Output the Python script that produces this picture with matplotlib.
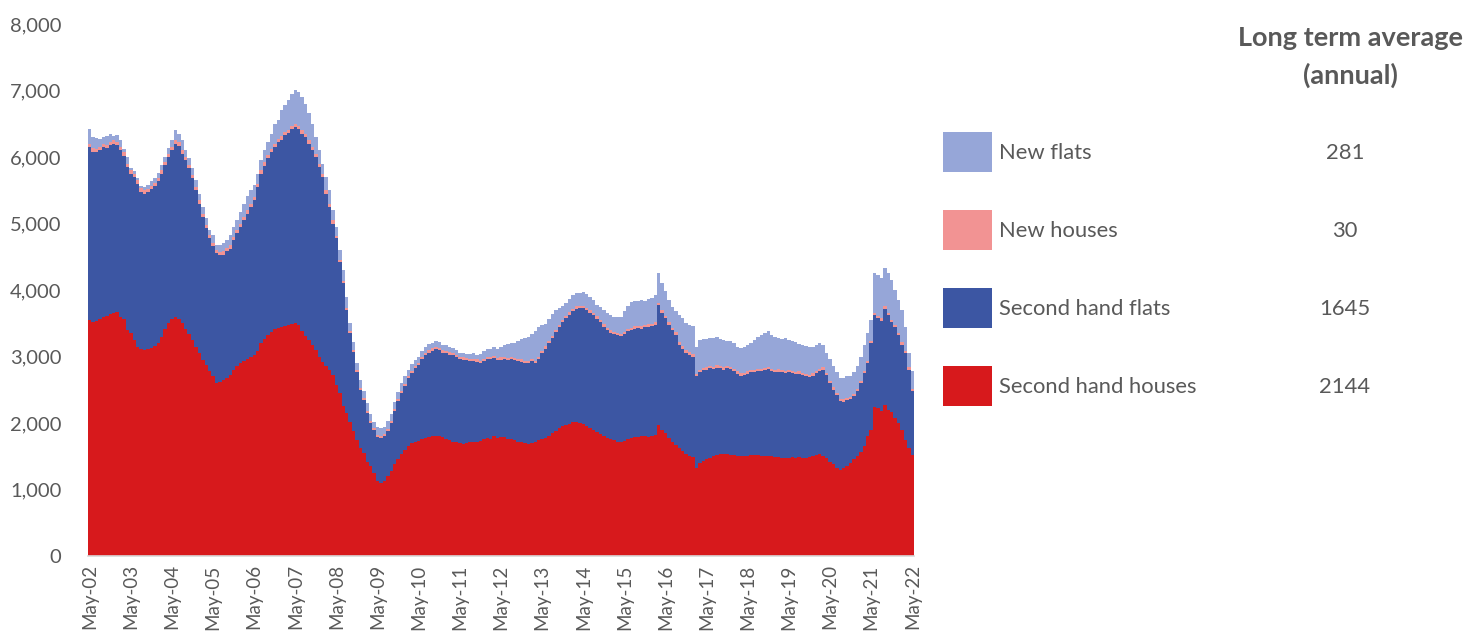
import matplotlib
matplotlib.use("Agg")
import matplotlib.pyplot as plt
from matplotlib.patches import Rectangle
import numpy as np

# ---------------- data (monthly, May-02 .. May-22) ----------------
second_hand_houses = [
    3550, 3520, 3530, 3560, 3600, 3610, 3640, 3650, 3670, 3590, 3560, 3400,
    3350, 3250, 3150, 3120, 3100, 3110, 3130, 3160, 3210, 3300, 3420, 3500,
    3560, 3590, 3570, 3500, 3420, 3340, 3250, 3150, 3050, 2950, 2870, 2780,
    2700, 2600, 2620, 2640, 2680, 2720, 2800, 2850, 2900, 2930, 2960, 2990,
    3020, 3080, 3200, 3270, 3330, 3370, 3410, 3430, 3450, 3460, 3470, 3490,
    3500, 3470, 3380, 3310, 3250, 3180, 3100, 3000, 2920, 2850, 2800, 2720,
    2570, 2450, 2250, 2150, 2020, 1880, 1750, 1620, 1550, 1420, 1350, 1250,
    1130, 1100, 1130, 1200, 1280, 1380, 1460, 1530, 1600, 1660, 1700, 1720,
    1730, 1760, 1780, 1790, 1800, 1810, 1800, 1790, 1760, 1740, 1720, 1710,
    1700, 1690, 1700, 1710, 1720, 1720, 1730, 1760, 1780, 1760, 1800, 1770,
    1790, 1790, 1760, 1760, 1740, 1720, 1710, 1700, 1690, 1700, 1720, 1740,
    1760, 1780, 1800, 1850, 1880, 1920, 1950, 1970, 1990, 2010, 2020, 2000,
    1990, 1960, 1930, 1900, 1870, 1840, 1810, 1780, 1760, 1740, 1720, 1710,
    1730, 1760, 1780, 1790, 1790, 1800, 1800, 1790, 1810, 1820, 1970, 1900,
    1850, 1780, 1720, 1670, 1620, 1580, 1540, 1510, 1490, 1320, 1400, 1430,
    1460, 1480, 1500, 1520, 1530, 1530, 1530, 1520, 1520, 1510, 1510, 1500,
    1510, 1520, 1520, 1520, 1510, 1500, 1500, 1500, 1490, 1490, 1480, 1480,
    1480, 1490, 1480, 1490, 1480, 1480, 1490, 1500, 1520, 1530, 1510, 1470,
    1420, 1380, 1330, 1300, 1320, 1360, 1400, 1460, 1500, 1560, 1650, 1800,
    1900, 2240, 2220, 2180, 2270, 2200, 2170, 2080, 2000, 1900, 1750, 1620,
    1520,
]

second_hand_flats = [
    2600, 2560, 2540, 2540, 2550, 2520, 2540, 2550, 2510, 2510, 2460, 2450,
    2400, 2450, 2450, 2360, 2350, 2360, 2390, 2400, 2430, 2450, 2460, 2500,
    2540, 2610, 2600, 2550, 2530, 2490, 2430, 2350, 2250, 2150, 2060, 2000,
    1960, 1950, 1900, 1890, 1900, 1900, 1950, 2000, 2050, 2120, 2190, 2260,
    2330, 2470, 2550, 2600, 2650, 2700, 2740, 2790, 2810, 2870, 2890, 2930,
    2950, 2950, 2970, 2990, 2950, 2920, 2900, 2850, 2780, 2600, 2450, 2280,
    2210, 1970, 1850, 1550, 1330, 1190, 1020, 880, 800, 730, 650, 650,
    660, 680, 670, 680, 720, 800, 870, 920, 950, 1010, 1050, 1100,
    1140, 1200, 1240, 1270, 1290, 1300, 1300, 1270, 1290, 1290, 1300, 1280,
    1260, 1260, 1240, 1220, 1210, 1200, 1170, 1170, 1180, 1200, 1170, 1170,
    1160, 1170, 1180, 1200, 1200, 1210, 1210, 1200, 1210, 1230, 1180, 1220,
    1290, 1340, 1400, 1430, 1490, 1520, 1570, 1610, 1640, 1670, 1700, 1730,
    1740, 1740, 1730, 1720, 1700, 1680, 1640, 1620, 1600, 1600, 1600, 1600,
    1610, 1620, 1620, 1630, 1640, 1620, 1640, 1660, 1650, 1660, 1800, 1760,
    1730, 1700, 1680, 1660, 1560, 1540, 1520, 1520, 1510, 1380, 1360, 1360,
    1340, 1340, 1310, 1310, 1290, 1270, 1290, 1290, 1260, 1230, 1200, 1220,
    1230, 1240, 1240, 1260, 1270, 1290, 1310, 1280, 1270, 1280, 1280, 1270,
    1280, 1260, 1250, 1250, 1240, 1220, 1200, 1210, 1230, 1250, 1290, 1250,
    1180, 1120, 1090, 1030, 1000, 980, 960, 940, 980, 1040, 1100, 1100,
    1300, 1380, 1360, 1360, 1450, 1420, 1350, 1360, 1320, 1280, 1300, 1180,
    960,
]

new_houses = [
    50, 50, 50, 50, 50, 50, 50, 50, 50, 50, 50, 50,
    50, 50, 50, 50, 50, 50, 50, 50, 50, 50, 50, 50,
    50, 50, 50, 50, 50, 50, 50, 50, 50, 50, 50, 50,
    50, 50, 50, 50, 50, 50, 50, 50, 50, 50, 50, 50,
    50, 50, 50, 50, 50, 50, 50, 50, 50, 50, 50, 50,
    50, 50, 50, 50, 50, 50, 50, 50, 50, 50, 50, 50,
    30, 30, 30, 30, 30, 30, 30, 30, 30, 30, 30, 30,
    30, 30, 30, 30, 30, 30, 30, 30, 30, 30, 30, 30,
    35, 35, 35, 35, 35, 35, 35, 35, 35, 35, 35, 35,
    35, 35, 35, 35, 35, 35, 35, 35, 35, 35, 35, 35,
    35, 35, 35, 35, 35, 35, 35, 35, 35, 35, 35, 35,
    35, 35, 35, 35, 35, 35, 35, 35, 35, 35, 35, 35,
    35, 35, 35, 35, 35, 35, 35, 35, 35, 35, 35, 35,
    35, 35, 35, 35, 35, 35, 35, 35, 35, 35, 35, 35,
    35, 35, 35, 35, 35, 35, 35, 35, 35, 35, 35, 35,
    35, 35, 35, 35, 35, 35, 35, 35, 35, 35, 35, 35,
    35, 35, 35, 35, 35, 35, 35, 35, 35, 35, 35, 35,
    35, 35, 35, 35, 35, 35, 35, 35, 35, 35, 35, 35,
    35, 35, 35, 35, 35, 35, 35, 35, 35, 35, 35, 35,
    35, 35, 35, 35, 35, 35, 35, 35, 35, 35, 35, 35,
    35,
]

new_flats = [
    220, 170, 160, 120, 100, 140, 110, 70, 100, 100, 50, 100,
    40, 40, 40, 40, 50, 60, 70, 70, 70, 80, 70, 80,
    100, 150, 130, 150, 100, 100, 100, 100, 100, 100, 100, 70,
    110, 80, 110, 120, 120, 150, 150, 150, 180, 200, 220, 200,
    180, 150, 150, 180, 200, 230, 300, 290, 390, 400, 440, 480,
    510, 510, 500, 450, 410, 350, 250, 200, 150, 200, 200, 150,
    140, 150, 170, 170, 120, 120, 100, 110, 100, 120, 100, 90,
    120, 110, 110, 120, 100, 110, 110, 120, 120, 100, 100, 90,
    85, 85, 95, 95, 85, 95, 85, 85, 95, 85, 75, 75,
    65, 65, 65, 75, 85, 75, 105, 115, 125, 115, 145, 135,
    165, 185, 215, 205, 225, 265, 305, 345, 365, 375, 445, 445,
    385, 335, 325, 325, 295, 255, 205, 195, 205, 205, 195, 195,
    205, 205, 205, 195, 175, 185, 215, 225, 225, 225, 235, 255,
    305, 345, 385, 375, 365, 395, 365, 375, 385, 405, 445, 415,
    365, 335, 305, 315, 405, 425, 405, 405, 425, 415, 455, 435,
    435, 425, 435, 425, 415, 415, 385, 385, 385, 375, 385, 395,
    395, 405, 455, 485, 505, 535, 535, 515, 505, 475, 475, 495,
    455, 445, 455, 415, 425, 425, 425, 405, 395, 385, 345, 305,
    325, 325, 305, 315, 325, 325, 305, 325, 345, 365, 395, 415,
    315, 595, 615, 605, 575, 595, 595, 525, 495, 485, 365, 215,
    265,
]

tick_labels = ["May-02", "May-03", "May-04", "May-05", "May-06", "May-07",
               "May-08", "May-09", "May-10", "May-11", "May-12", "May-13",
               "May-14", "May-15", "May-16", "May-17", "May-18", "May-19",
               "May-20", "May-21", "May-22"]

series_names = ["New flats", "New houses", "Second hand flats", "Second hand houses"]
long_term_avg = ["281", "30", "1645", "2144"]

# ---------------- styling ----------------
C_SHH = "#D7191C"
C_SHF = "#3C56A3"
C_NH = "#F29393"
C_NF = "#96A6D8"
TXT = "#595959"
FONT = "Lato"

W, H = 1482, 637
fig = plt.figure(figsize=(W / 100, H / 100), dpi=100)
ax = fig.add_axes([88 / W, 1 - 556 / H, (914 - 88) / W, (556 - 24) / H])

x = np.arange(len(second_hand_houses))
b1 = np.array(second_hand_houses, dtype=float)
b2 = b1 + np.array(second_hand_flats)
b3 = b2 + np.array(new_houses)

kw = dict(width=1.0, linewidth=0)
ax.bar(x, second_hand_houses, color=C_SHH, **kw)
ax.bar(x, second_hand_flats, bottom=b1, color=C_SHF, **kw)
ax.bar(x, new_houses, bottom=b2, color=C_NH, **kw)
ax.bar(x, new_flats, bottom=b3, color=C_NF, **kw)

ax.set_xlim(-0.5, len(x) - 0.5)
ax.set_ylim(0, 8000)
ax.set_yticks(np.arange(0, 8001, 1000))
ax.set_yticklabels([f"{v:,}" for v in range(0, 8001, 1000)])
ax.set_xticks(np.arange(0, len(x), 12))
ax.set_xticklabels(tick_labels, rotation=90)
ax.tick_params(axis="both", length=0, colors=TXT)
ax.tick_params(axis="y", labelsize=14.5, pad=19)
ax.tick_params(axis="x", labelsize=13.5, pad=6)
for lab in ax.get_xticklabels() + ax.get_yticklabels():
    lab.set_fontfamily(FONT)
for s in ["top", "right", "left"]:
    ax.spines[s].set_visible(False)
ax.spines["bottom"].set_color("#D9D9D9")
ax.spines["bottom"].set_linewidth(1.2)

# ---------------- custom legend / table ----------------
def fx(px):
    return px / W

def fy(py):
    return 1 - py / H

fig.text(fx(1350), fy(38), "Long term average", ha="center", va="center",
         fontsize=19.5, fontweight="bold", color=TXT, family=FONT)
fig.text(fx(1350), fy(75), "(annual)", ha="center", va="center",
         fontsize=19.5, fontweight="bold", color=TXT, family=FONT)

colors = [C_NF, C_NH, C_SHF, C_SHH]
rows_y = [152, 230, 308, 386]
for name, val, col, yc in zip(series_names, long_term_avg, colors, rows_y):
    fig.add_artist(Rectangle((fx(943), fy(yc + 20)), fx(992) - fx(943),
                             fy(yc - 20) - fy(yc + 20), transform=fig.transFigure,
                             facecolor=col, edgecolor="none"))
    fig.text(fx(999), fy(yc + 1), name, ha="left", va="center", fontsize=15.8,
             color=TXT, family=FONT)
    fig.text(fx(1345), fy(yc + 1), val, ha="center", va="center", fontsize=15.8,
             color=TXT, family=FONT)

fig.savefig("out.png", dpi=100)
